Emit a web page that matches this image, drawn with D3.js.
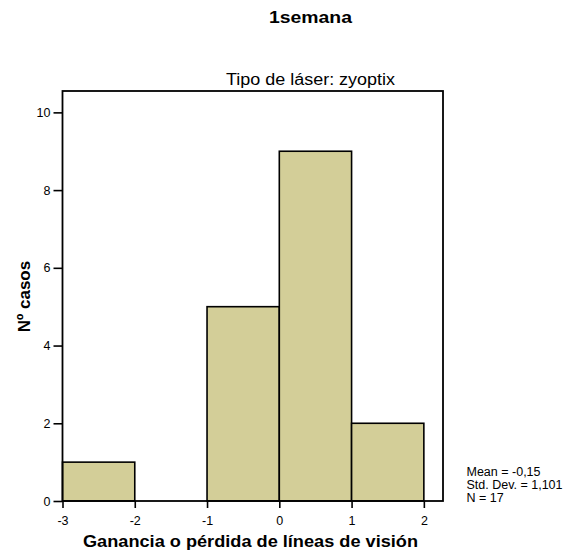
<!DOCTYPE html>
<html>
<head>
<meta charset="utf-8">
<script src="https://cdn.jsdelivr.net/npm/d3@7"></script>
<style>
  html, body { margin: 0; padding: 0; background: #fff; }
  svg { display: block; font-family: "Liberation Sans", Arial, sans-serif; }
</style>
</head>
<body>
<svg id="chart" width="566" height="556"></svg>
<script>
// Histogram bins (lower edge, upper edge) and case counts
const binStarts = [-3, -2, -1, 0, 1];
const binEnds   = [-2, -1, 0, 1, 2];
const counts    = [1, 0, 5, 9, 2];

const xTicks = [-3, -2, -1, 0, 1, 2];
const yTicks = [0, 2, 4, 6, 8, 10];

const mainTitle = "1semana";
const panelTitle = "Tipo de láser: zyoptix";
const xTitle = "Ganancia o pérdida de líneas de visión";
const yTitle = "Nº casos";
const stats = ["Mean = -0,15", "Std. Dev. = 1,101", "N = 17"];

const svg = d3.select("#chart");

const frame = { left: 62.5, right: 443, top: 91, bottom: 501 };

const x = d3.scaleLinear().domain([-3, 2.265]).range([frame.left, frame.right]);
const y = d3.scaleLinear().domain([0, 10.55]).range([frame.bottom, frame.top]);

// Bars
svg.append("g")
  .selectAll("rect")
  .data(counts.map((c, i) => ({ x0: binStarts[i], x1: binEnds[i], c })))
  .join("rect")
  .attr("x", d => x(d.x0))
  .attr("y", d => y(d.c))
  .attr("width", d => x(d.x1) - x(d.x0))
  .attr("height", d => y(0) - y(d.c))
  .attr("fill", "#d3ce98")
  .attr("stroke", "#000")
  .attr("stroke-width", 1.6);

// Plot frame
svg.append("rect")
  .attr("x", frame.left)
  .attr("y", frame.top)
  .attr("width", frame.right - frame.left)
  .attr("height", frame.bottom - frame.top)
  .attr("fill", "none")
  .attr("stroke", "#000")
  .attr("stroke-width", 1.8);

// Axes (plain hyphen for negative numbers)
const fmt = d => String(d);
const xAxis = svg.append("g")
  .attr("transform", `translate(0,${frame.bottom})`)
  .call(d3.axisBottom(x).tickValues(xTicks).tickSize(7).tickPadding(8.5).tickFormat(fmt));
const yAxis = svg.append("g")
  .attr("transform", `translate(${frame.left},0)`)
  .call(d3.axisLeft(y).tickValues(yTicks).tickSize(9).tickPadding(3).tickFormat(fmt));

[xAxis, yAxis].forEach(g => {
  g.select(".domain").remove();
  g.selectAll(".tick line").attr("stroke", "#000").attr("stroke-width", 1.6);
  g.selectAll(".tick text")
    .attr("fill", "#000")
    .style("font-family", "'Liberation Sans', Arial, sans-serif")
    .style("font-size", "12.5px");
});

// Titles
svg.append("text")
  .attr("x", 310.5).attr("y", 23)
  .attr("text-anchor", "middle")
  .attr("textLength", 83).attr("lengthAdjust", "spacingAndGlyphs")
  .style("font-weight", "bold").style("font-size", "17px")
  .text(mainTitle);

svg.append("text")
  .attr("x", 310.5).attr("y", 85)
  .attr("text-anchor", "middle")
  .attr("textLength", 169).attr("lengthAdjust", "spacingAndGlyphs")
  .style("font-size", "16px")
  .text(panelTitle);

svg.append("text")
  .attr("x", 250.5).attr("y", 547)
  .attr("text-anchor", "middle")
  .attr("textLength", 335).attr("lengthAdjust", "spacingAndGlyphs")
  .style("font-weight", "bold").style("font-size", "17px")
  .text(xTitle);

svg.append("text")
  .attr("transform", "translate(30,296.5) rotate(-90)")
  .attr("text-anchor", "middle")
  .style("font-weight", "bold").style("font-size", "17px")
  .text(yTitle);

// Summary statistics
svg.append("g")
  .selectAll("text")
  .data(stats)
  .join("text")
  .attr("x", 466.5)
  .attr("y", (d, i) => 476 + i * 13)
  .style("font-size", "12.5px")
  .text(d => d);
</script>
</body>
</html>
